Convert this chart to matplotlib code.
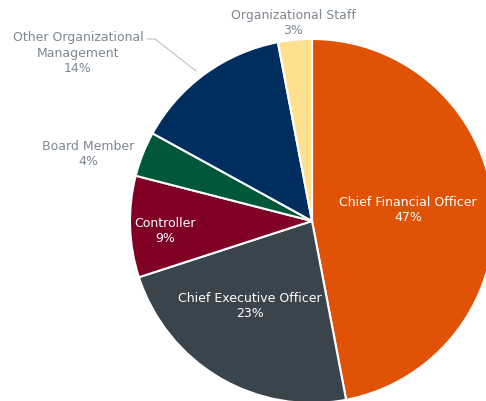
import matplotlib
matplotlib.use("Agg")
import matplotlib.pyplot as plt

# data
roles = ["Chief Financial Officer", "Chief Executive Officer", "Controller",
         "Board Member", "Other Organizational\nManagement", "Organizational Staff"]
shares = [47, 23, 9, 4, 14, 3]
colors = ["#E05206", "#3A444C", "#800026", "#00573A", "#002F5F", "#FFE08E"]

# label placement in pixel coords (x, y from top) and text colour
label_pos = [(408, 210), (250, 306), (165, 231), (88, 154), (78, 53), (293, 23)]
label_col = ["white", "white", "white", "#7F8790", "#7F8790", "#7F8790"]

W, H = 486, 402
fig = plt.figure(figsize=(W / 100, H / 100), dpi=100)
ax = fig.add_axes([0, 0, 1, 1])
ax.set_xlim(0, W)
ax.set_ylim(0, H)
ax.axis("off")

cx, cy, r = 312, H - 222, 182
ax.pie(shares, colors=colors, startangle=90, counterclock=False,
       center=(cx, cy), radius=r, frame=True,
       wedgeprops=dict(edgecolor="white", linewidth=1.5))
ax.set_xlim(0, W)
ax.set_ylim(0, H)
ax.axis("off")

for name, val, (x, y), c in zip(roles, shares, label_pos, label_col):
    ax.text(x, H - y, f"{name}\n{val}%", ha="center", va="center",
            color=c, fontsize=9, linespacing=1.25, family="DejaVu Sans")

# leader line for Other Organizational Management
ax.plot([147, 155, 196], [H - 40, H - 40, H - 72], color="#BFC3C7", lw=0.8)

fig.savefig("out.png", dpi=100)
